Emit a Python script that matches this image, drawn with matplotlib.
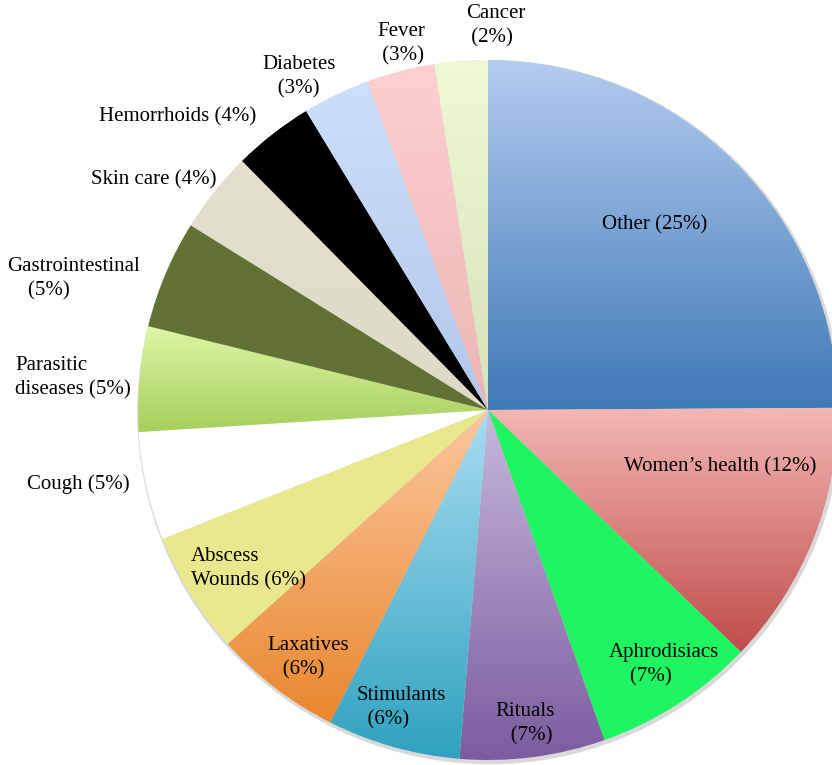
import numpy as np
import matplotlib.pyplot as plt
from matplotlib.colors import LinearSegmentedColormap
from matplotlib.patches import Circle

# Share of uses (percent), clockwise from 12 o'clock
categories = ["Other", "Women\u2019s health", "Aphrodisiacs", "Rituals", "Stimulants",
              "Laxatives", "Abscess Wounds", "Cough", "Parasitic diseases",
              "Gastrointestinal", "Skin care", "Hemorrhoids", "Diabetes", "Fever", "Cancer"]
shares = [24.9, 12.25, 7.45, 6.7, 6.15, 5.9, 5.65, 5.0, 4.85, 5.0, 3.75, 3.7, 3.1, 3.15, 2.45]

# label text as shown on the chart (line breaks / indents as in the original)
label_text = [
    "Other (25%)",
    "Women\u2019s health (12%)",
    "Aphrodisiacs\n    (7%)",
    "Rituals\n   (7%)",
    "Stimulants\n  (6%)",
    "Laxatives\n   (6%)",
    "Abscess\nWounds (6%)",
    "Cough (5%)",
    "Parasitic\ndiseases (5%)",
    "Gastrointestinal\n    (5%)",
    "Skin care (4%)",
    "Hemorrhoids (4%)",
    "Diabetes\n   (3%)",
    "Fever\n (3%)",
    "Cancer\n (2%)",
]

# gradient fills (top colour, bottom colour) per slice
fills = [
    ("#b4ccf0", "#3e78b6"),
    ("#f4b8b5", "#bf4c49"),
    ("#1ff561", "#1ff561"),
    ("#c8b8dc", "#7a5c9f"),
    ("#a8ddf1", "#2fa2bf"),
    ("#fcc7a0", "#e8872d"),
    ("#e9e88d", "#e9e88d"),
    ("#ffffff", "#ffffff"),
    ("#def6a6", "#a6cf5c"),
    ("#617234", "#617234"),
    ("#e4e0d0", "#dddac6"),
    ("#000000", "#000000"),
    ("#cde0fa", "#b2c6ea"),
    ("#fdd0d0", "#ecb5b5"),
    ("#eff9d4", "#d5e3b8"),
]

W, H = 832, 765
cx, cy, R = 488, 410, 350  # pie centre / radius in pixels

fig = plt.figure(figsize=(W / 100, H / 100), dpi=100)
ax = fig.add_axes([0, 0, 1, 1])
plt.rcParams['font.family'] = ['Liberation Serif', 'DejaVu Serif']

# soft outer shadow
ax.add_patch(Circle((0.004, -0.006), 1.006, facecolor="#d9d9d9", edgecolor="none", zorder=0))

wedges, _ = ax.pie(shares, startangle=90, counterclock=False, radius=1,
                   wedgeprops=dict(linewidth=0))

grad = np.linspace(0, 1, 256).reshape(-1, 1)
for w, (c_top, c_bot) in zip(wedges, fills):
    w.set_facecolor("none")
    w.set_zorder(1)
    v = w.get_path().vertices
    x0, x1 = v[:, 0].min(), v[:, 0].max()
    y0, y1 = v[:, 1].min(), v[:, 1].max()
    cmap = LinearSegmentedColormap.from_list("g", [c_top, c_bot])
    im = ax.imshow(grad, cmap=cmap, extent=[x0, x1, y0, y1], origin="upper",
                   aspect="auto", interpolation="bilinear", zorder=1)
    im.set_clip_path(w)

# label anchors (pixel coords of the text block; left/center alignment)
label_layout = [
    (655, 225, "center"),
    (624, 467, "left"),
    (609, 665, "left"),
    (495, 724, "left"),
    (357, 708, "left"),
    (267, 658, "left"),
    (191, 569, "left"),
    (27, 484, "left"),
    (15, 378, "left"),
    (7, 279, "left"),
    (91, 180, "left"),
    (99, 117, "left"),
    (262, 77, "left"),
    (377, 44, "left"),
    (466, 26, "left"),
]
for txt, (px, py, ha) in zip(label_text, label_layout):
    ax.text((px - cx) / R, (cy - py) / R, txt, ha=ha, va="center",
            fontsize=15, color="black", linespacing=1.35, zorder=3)

ax.set_xlim(-cx / R, (W - cx) / R)
ax.set_ylim(-(H - cy) / R, cy / R)
ax.set_aspect("auto")
ax.axis("off")

fig.savefig("out.png", dpi=100)
